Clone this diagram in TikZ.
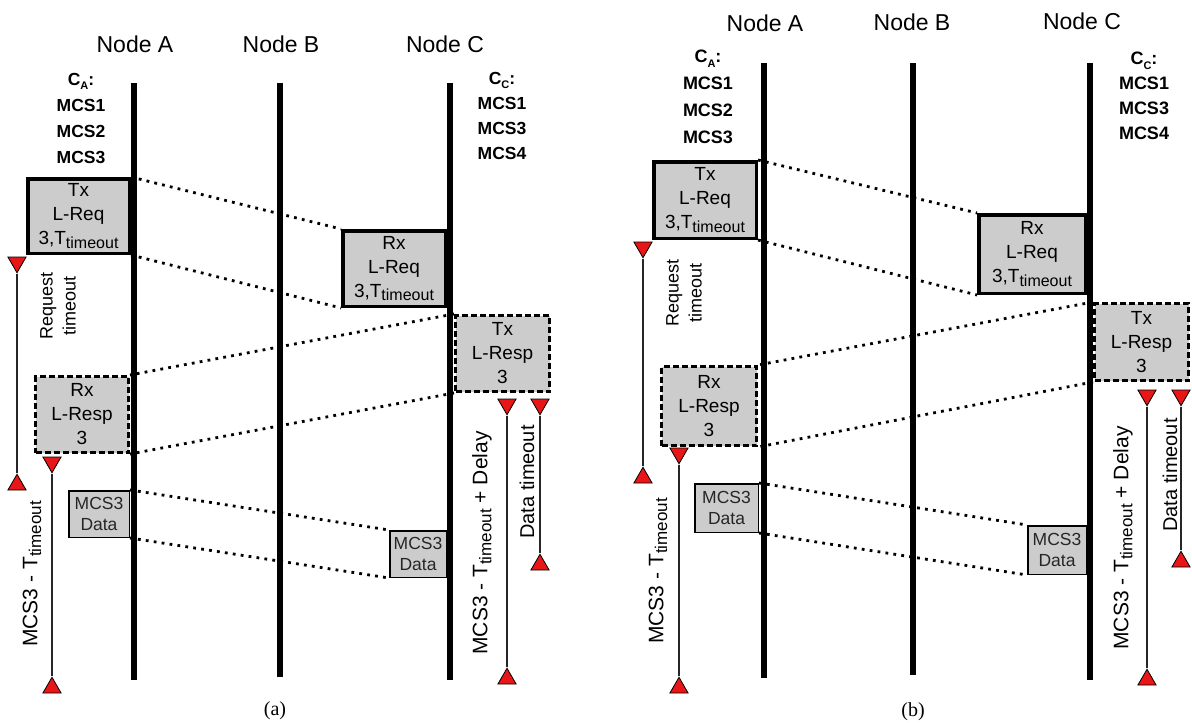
\documentclass[tikz,border=0pt]{standalone}
\usepackage{fontspec}
\setmainfont{Liberation Sans}
\newfontfamily\capfont{Liberation Serif}
\usetikzlibrary{shapes.geometric}
\definecolor{boxgray}{RGB}{204,204,204}
\definecolor{timerred}{RGB}{232,22,22}
\newcommand{\tsub}[1]{\raisebox{-0.35ex}{\fontsize{#1}{#1}\selectfont timeout}}
\newcommand{\csub}[1]{\raisebox{-0.45ex}{\fontsize{11}{11}\selectfont #1}}

\begin{document}
\begin{tikzpicture}[x=1pt, y=-1pt, >=latex,
	lifeline/.style={line width=6.5pt},
	head/.style={inner sep=0pt, font=\fontsize{23}{28}\selectfont},
	cset/.style={anchor=north, align=center, inner sep=0pt, font=\bfseries\fontsize{17.5}{26}\selectfont},
	boxsize/.style 2 args={minimum width=#1, minimum height=#2},
	boxtext/.style={align=center, inner sep=0pt, text=black, font=\fontsize{19}{24}\selectfont},
	solidbox/.style={boxtext, draw, line width=3.5pt, fill=boxgray},
	dashbox/.style={boxtext, draw, line width=3pt, dash pattern=on 6pt off 3pt, fill=boxgray},
	databox/.style={align=center, inner sep=0pt, draw, line width=1.5pt, fill=boxgray, text=black!85, font=\fontsize{17.5}{21.5}\selectfont},
	msg/.style={line width=2.8pt, dash pattern=on 2.8pt off 5.2pt},
	tdown/.style={regular polygon, regular polygon sides=3, regular polygon rotate=180, draw, line width=0.8pt, fill=timerred, minimum size=21pt, inner sep=0pt},
	tup/.style={regular polygon, regular polygon sides=3, draw, line width=0.8pt, fill=timerred, minimum size=21pt, inner sep=0pt},
	timer/.style={line width=1.3pt, black!85},
	tlabel/.style={rotate=90, align=center, inner sep=0pt, font=\fontsize{21}{25}\selectfont}]
	\useasboundingbox (0,0) rectangle (1192,723);

	% (a)
	\coordinate (aA1) at (134,83);  \coordinate (aA2) at (134,680);
	\coordinate (aB1) at (280,83);  \coordinate (aB2) at (280,677);
	\coordinate (aC1) at (450,83);  \coordinate (aC2) at (450,680);
	\draw[lifeline] (aA1) -- (aA2);
	\draw[lifeline] (aB1) -- (aB2);
	\draw[lifeline] (aC1) -- (aC2);
	\node[head] (headA1) at (135,44) {Node A};
	\node[head] (headB1) at (281,44) {Node B};
	\node[head] (headC1) at (445,44) {Node C};
	\node[cset] (setA1) at (81,73) {C\csub{A}:\\MCS1\\MCS2\\MCS3};
	\node[cset, font=\bfseries\fontsize{17.5}{25}\selectfont] (setC1) at (502,72) {C\csub{C}:\\MCS1\\MCS3\\MCS4};

	\node[solidbox, boxsize={101.5}{74.5}] (txreqA) at (78.5,216) {Tx\\L-Req\\3,T\tsub{16}};
	\node[solidbox, boxsize={102.5}{75.5}] (rxreqA) at (394,268.5) {Rx\\L-Req\\3,T\tsub{16}};
	\node[dashbox, boxsize={94}{76}] (txrespA) at (502.5,353.5) {Tx\\L-Resp\\3};
	\node[dashbox, boxsize={93}{76}] (rxrespA) at (82,414.5) {Rx\\L-Resp\\3};
	\node[databox, boxsize={60.5}{46.5}] (dataA1) at (99,514) {MCS3\\Data};
	\node[databox, boxsize={56.5}{46.5}] (dataA2) at (418,554) {MCS3\\Data};

	\draw[msg] (txreqA.north east) -- (rxreqA.north west);
	\draw[msg] (txreqA.south east) -- (rxreqA.south west);
	\draw[msg] (txrespA.north west) -- (rxrespA.north east);
	\draw[msg] (txrespA.south west) -- (rxrespA.south east);
	\draw[msg] (dataA1.north east) -- (dataA2.north west);
	\draw[msg] (dataA1.south east) -- (dataA2.south west);

	\node[tdown] (reqA1) at (17,262.25) {};
	\node[tup] (reqA2) at (17,484.75) {};
	\draw[timer] (reqA1) -- (reqA2);
	\node[tdown] (mcsA1) at (52,462.25) {};
	\node[tup] (mcsA2) at (52,687.75) {};
	\draw[timer] (mcsA1) -- (mcsA2);
	\node[tdown] (dlyA1) at (507,404.25) {};
	\node[tup] (dlyA2) at (507,678.75) {};
	\draw[timer] (dlyA1) -- (dlyA2);
	\node[tdown] (datA1) at (540,404.25) {};
	\node[tup] (datA2) at (540,564.75) {};
	\draw[timer] (datA1) -- (datA2);

	\node[tlabel, font=\fontsize{18}{23}\selectfont] (reqlabA) at (58,306) {Request\\timeout};
	\node[tlabel] (mcslabA) at (32,574) {MCS3 - T\tsub{17}};
	\node[tlabel] (dlylabA) at (482,543) {MCS3 - T\tsub{17} + Delay};
	\node[tlabel, font=\fontsize{20}{24}\selectfont] (datlabA) at (527,482) {Data timeout};
	\node[font=\capfont\fontsize{20}{24}\selectfont] (capA) at (275,711) {(a)};

	% (b)
	\coordinate (bA1) at (764,63);   \coordinate (bA2) at (764,678);
	\coordinate (bB1) at (913,63);   \coordinate (bB2) at (913,675);
	\coordinate (bC1) at (1090,63);  \coordinate (bC2) at (1090,680);
	\draw[lifeline] (bA1) -- (bA2);
	\draw[lifeline] (bB1) -- (bB2);
	\draw[lifeline] (bC1) -- (bC2);
	\node[head] (headA2) at (765,23) {Node A};
	\node[head] (headB2) at (912,22) {Node B};
	\node[head] (headC2) at (1082,21) {Node C};
	\node[cset, font=\bfseries\fontsize{18}{27}\selectfont] (setA2) at (708,50) {C\csub{A}:\\MCS1\\MCS2\\MCS3};
	\node[cset, font=\bfseries\fontsize{18}{25}\selectfont] (setC2) at (1144,52) {C\csub{C}:\\MCS1\\MCS3\\MCS4};

	\node[solidbox, boxsize={102.5}{76.5}] (txreqB) at (705,200) {Tx\\L-Req\\3,T\tsub{16}};
	\node[solidbox, boxsize={106.5}{78.5}] (rxreqB) at (1032,254) {Rx\\L-Req\\3,T\tsub{16}};
	\node[dashbox, boxsize={94}{77}] (txrespB) at (1141.5,342) {Tx\\L-Resp\\3};
	\node[dashbox, boxsize={95}{79}] (rxrespB) at (709,406) {Rx\\L-Resp\\3};
	\node[databox, boxsize={63.5}{48.5}] (dataB1) at (726.5,508) {MCS3\\Data};
	\node[databox, boxsize={58.5}{48.5}] (dataB2) at (1057,550) {MCS3\\Data};

	\draw[msg] (txreqB.north east) -- (rxreqB.north west);
	\draw[msg] (txreqB.south east) -- (rxreqB.south west);
	\draw[msg] (txrespB.north west) -- (rxrespB.north east);
	\draw[msg] (txrespB.south west) -- (rxrespB.south east);
	\draw[msg] (dataB1.north east) -- (dataB2.north west);
	\draw[msg] (dataB1.south east) -- (dataB2.south west);

	\node[tdown] (reqB1) at (643,247.25) {};
	\node[tup] (reqB2) at (643,477.75) {};
	\draw[timer] (reqB1) -- (reqB2);
	\node[tdown] (mcsB1) at (679,453.25) {};
	\node[tup] (mcsB2) at (679,687.75) {};
	\draw[timer] (mcsB1) -- (mcsB2);
	\node[tdown] (dlyB1) at (1147,395.25) {};
	\node[tup] (dlyB2) at (1147,679.75) {};
	\draw[timer] (dlyB1) -- (dlyB2);
	\node[tdown] (datB1) at (1181,395.25) {};
	\node[tup] (datB2) at (1181,561.75) {};
	\draw[timer] (datB1) -- (datB2);

	\node[tlabel, font=\fontsize{18}{23}\selectfont] (reqlabB) at (684,293) {Request\\timeout};
	\node[tlabel] (mcslabB) at (658,571) {MCS3 - T\tsub{17}};
	\node[tlabel] (dlylabB) at (1123,538) {MCS3 - T\tsub{17} + Delay};
	\node[tlabel, font=\fontsize{20}{24}\selectfont] (datlabB) at (1170,475) {Data timeout};
	\node[font=\capfont\fontsize{20}{24}\selectfont] (capB) at (913,712) {(b)};
\end{tikzpicture}
\end{document}
